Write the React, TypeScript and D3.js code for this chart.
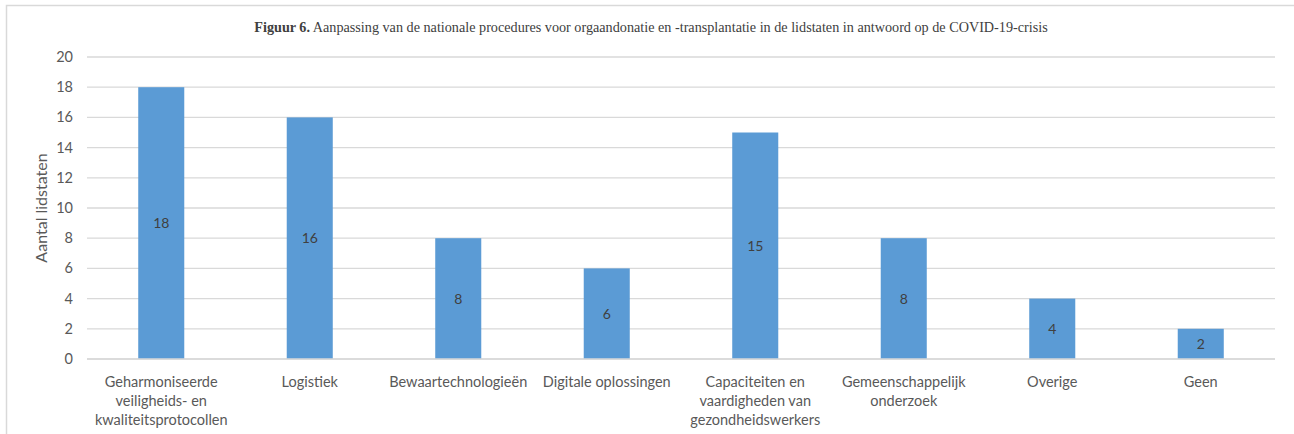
import { scaleBand, scaleLinear } from "d3";

const categories = [
  ["Geharmoniseerde", "veiligheids- en", "kwaliteitsprotocollen"],
  ["Logistiek"],
  ["Bewaartechnologieën"],
  ["Digitale oplossingen"],
  ["Capaciteiten en", "vaardigheden van", "gezondheidswerkers"],
  ["Gemeenschappelijk", "onderzoek"],
  ["Overige"],
  ["Geen"],
];
const counts = [18, 16, 8, 6, 15, 8, 4, 2];
const yTicks = [0, 2, 4, 6, 8, 10, 12, 14, 16, 18, 20];

const font = "Lato, 'Open Sans', sans-serif";

export default function App() {
  const width = 1294;
  const height = 434;
  const plot = { left: 87, right: 1275, top: 57, bottom: 359 };

  const x = scaleBand<number>()
    .domain(counts.map((_, i) => i))
    .range([plot.left, plot.right])
    .paddingInner(0.69)
    .paddingOuter(0.345);

  const y = scaleLinear().domain([0, 20]).range([plot.bottom, plot.top]);

  return (
    <svg
      width={width}
      height={height}
      style={{ position: "absolute", left: 0, top: 0, background: "#fff" }}
    >
      <path
        d={`M6.5,${height} V5.5 H${width}`}
        fill="none"
        stroke="#d9d9d9"
        strokeWidth={1.5}
      />
      <text
        x={651}
        y={31.5}
        textAnchor="middle"
        fontFamily="'Liberation Serif', 'Times New Roman', serif"
        fontSize={14.2}
        fill="#404040"
      >
        <tspan fontWeight="bold">Figuur 6.</tspan> Aanpassing van de nationale
        procedures voor orgaandonatie en -transplantatie in de lidstaten in
        antwoord op de COVID-19-crisis
      </text>

      <g>
        {yTicks.map((t) => (
          <g key={t}>
            <line
              x1={plot.left}
              x2={plot.right}
              y1={y(t)}
              y2={y(t)}
              stroke="#d9d9d9"
              strokeWidth={1.3}
            />
            <text
              x={73}
              y={y(t)}
              dy="0.35em"
              textAnchor="end"
              fontFamily={font}
              fontSize={14.5}
              fill="#595959"
            >
              {t}
            </text>
          </g>
        ))}
      </g>

      <text
        transform={`translate(47,${(plot.top + plot.bottom) / 2}) rotate(-90)`}
        textAnchor="middle"
        fontFamily={font}
        fontSize={16}
        fill="#595959"
      >
        Aantal lidstaten
      </text>

      <g>
        {counts.map((v, i) => {
          const bx = x(i) ?? 0;
          const top = y(v);
          return (
            <g key={i}>
              <rect
                x={bx}
                y={top}
                width={x.bandwidth()}
                height={y(0) - top}
                fill="#5b9bd5"
              />
              <text
                x={bx + x.bandwidth() / 2}
                y={(top + y(0)) / 2}
                dy="0.35em"
                textAnchor="middle"
                fontFamily={font}
                fontSize={14}
                fill="#404040"
              >
                {v}
              </text>
            </g>
          );
        })}
      </g>

      <line
        x1={plot.left}
        x2={plot.right}
        y1={y(0)}
        y2={y(0)}
        stroke="#d9d9d9"
        strokeWidth={1.3}
      />

      <g>
        {categories.map((lines, i) => {
          const cx = (x(i) ?? 0) + x.bandwidth() / 2;
          return (
            <text
              key={i}
              textAnchor="middle"
              fontFamily={font}
              fontSize={14.5}
              fill="#595959"
            >
              {lines.map((l, j) => (
                <tspan key={j} x={cx} y={387 + j * 19}>
                  {l}
                </tspan>
              ))}
            </text>
          );
        })}
      </g>
    </svg>
  );
}
